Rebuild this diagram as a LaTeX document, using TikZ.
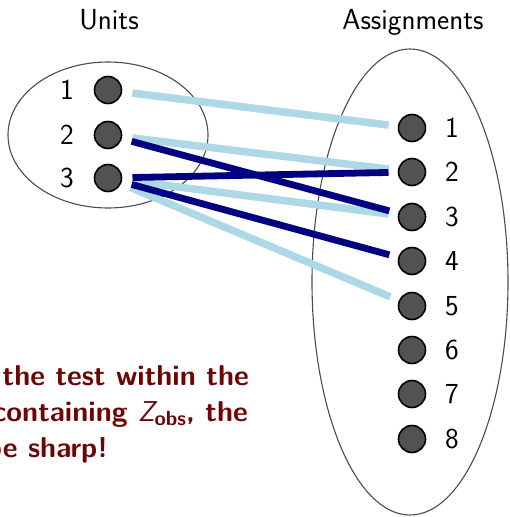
\documentclass[tikz,border=0pt]{standalone}
\usepackage{fontspec}
\begin{document}
\begin{tikzpicture}[x=1pt,y=-1pt,
  dot/.style={circle,draw=black,line width=1.6pt,fill=black!68,minimum size=27pt,inner sep=0pt,outer sep=0pt},
  lbl/.style={font=\sffamily\fontsize{29}{34}\selectfont,inner sep=0pt},
  grp/.style={draw=black!70,line width=1.1pt},
  lt/.style={draw={rgb,255:red,173;green,216;blue,230},line width=7.5pt,shorten <=11pt,shorten >=10pt},
  dk/.style={draw={rgb,255:red,0;green,0;blue,128},line width=6.8pt,shorten <=11pt,shorten >=10pt},
  msg/.style={font=\sffamily\bfseries\fontsize{28.7}{34}\selectfont,text={rgb,255:red,110;green,5;blue,5},inner sep=0pt,anchor=base east}
]
\useasboundingbox (0,0) rectangle (509,517);
\clip (0,0) rectangle (509,517);
% groups
\draw[grp] (108,135) ellipse [x radius=100, y radius=73];
\draw[grp] (410,282) ellipse [x radius=98, y radius=233];
% titles
\node[lbl,anchor=base] (tu) at (109,29) {Units};
\node[lbl,anchor=base] (ta) at (413,29) {Assignments};
% unit dots
\foreach \i/\y in {1/90,2/135,3/178}{
  \node[dot] (u\i) at (108,\y) {};
  \node[lbl] (ul\i) at (67,\y) {\i};
}
% assignment dots
\foreach \i/\y in {1/128,2/172,3/217,4/261,5/306,6/350,7/394,8/439}{
  \node[dot] (a\i) at (412,\y) {};
  \node[lbl] (al\i) at (452,\y) {\i};
}
% connectors
\draw[lt] (u1) -- (a1);
\draw[lt] (u2) -- (a2);
\draw[lt] (u3) -- (a3);
\draw[lt] (u3) -- (a5);
\draw[dk] (u2) -- (a3);
\draw[dk] (u3) -- (a2);
\draw[dk] (u3) -- (a4);
% message
\node[msg] (m1) at (249,385) {the test within the};
\node[msg] (m2) at (248,421) {containing {\fontseries{m}\itshape Z}\raisebox{-0.35ex}{\fontsize{20.5}{22}\selectfont obs}, the};
\node[msg] (m3) at (108,457) {be sharp!};
\end{tikzpicture}
\end{document}
